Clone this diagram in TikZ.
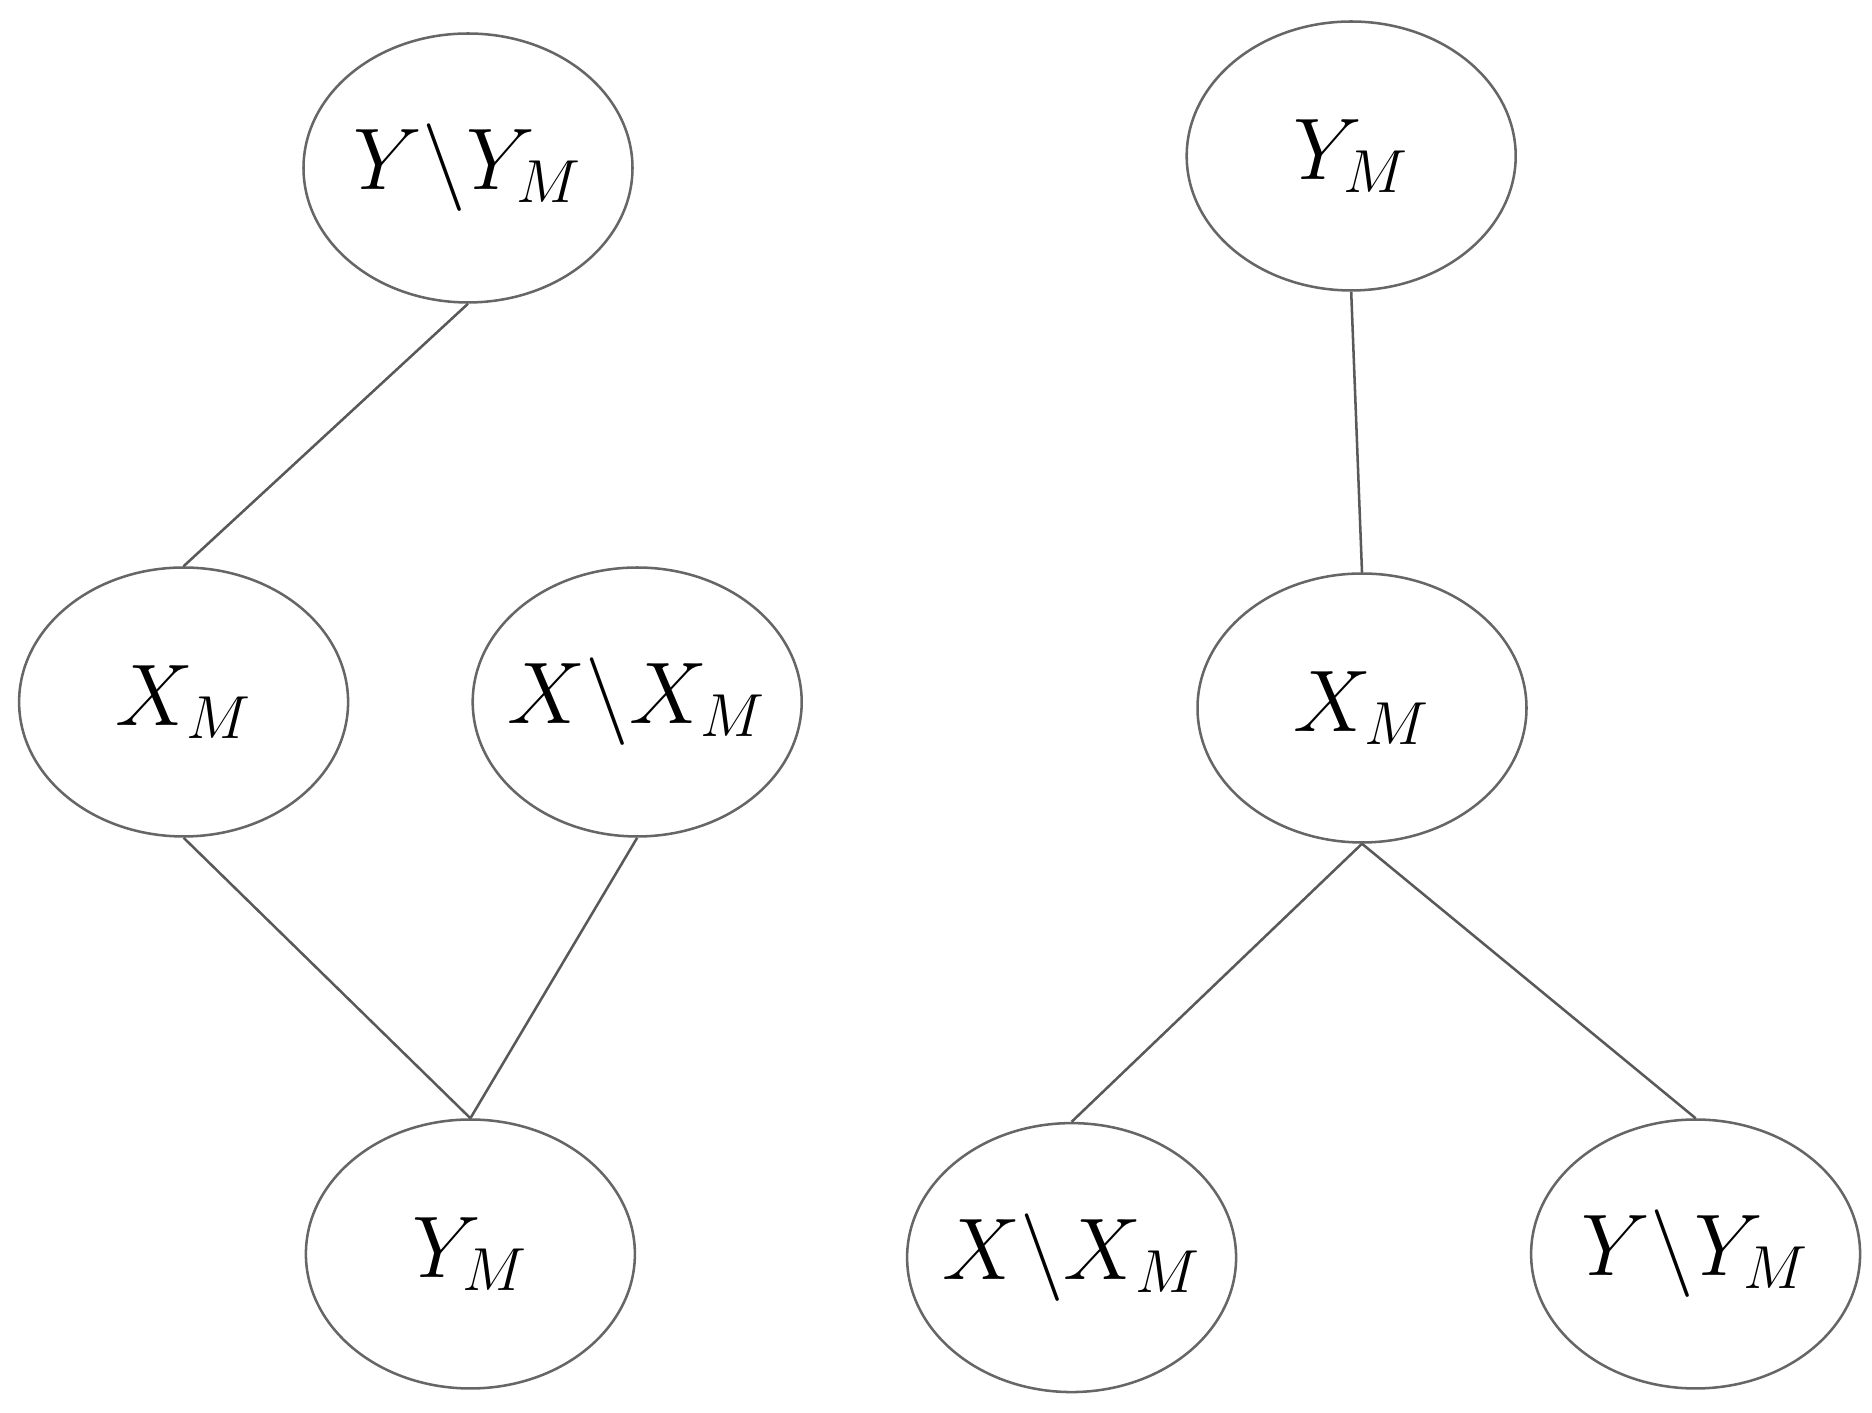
\documentclass[tikz,border=0pt]{standalone}
\usetikzlibrary{shapes.geometric}
\begin{document}
\begin{tikzpicture}[x=0.01cm,y=-0.01cm,
  el/.style={ellipse,draw=black!60,line width=0.6pt,minimum width=2.74cm,minimum height=2.24cm,inner sep=0pt},
  tx/.style={font=\fontsize{21}{25}\selectfont,inner sep=0pt},
  ln/.style={draw=black!65,line width=0.6pt}]
\useasboundingbox (0,0) rectangle (1560,1177);
\node[el] (A) at (390,140) {}; \node[tx] (At) at (A) {$Y\backslash Y_M$};
\node[el] (B) at (153,585) {}; \node[tx] (Bt) at (B) {$X_M$};
\node[el] (C) at (531,585) {}; \node[tx] (Ct) at (C) {$X\backslash X_M$};
\node[el] (D) at (392,1045) {}; \node[tx] (Dt) at (D) {$Y_M$};
\node[el] (E) at (1126,130) {}; \node[tx] (Et) at (E) {$Y_M$};
\node[el] (F) at (1135,590) {}; \node[tx] (Ft) at (F) {$X_M$};
\node[el] (G) at (893,1048) {}; \node[tx] (Gt) at (G) {$X\backslash X_M$};
\node[el] (H) at (1413,1045) {}; \node[tx] (Ht) at (H) {$Y\backslash Y_M$};
\draw[ln] (A.south) -- (B.north);
\draw[ln] (B.south) -- (D.north);
\draw[ln] (C.south) -- (D.north);
\draw[ln] (E.south) -- (F.north);
\draw[ln] (F.south) -- (G.north);
\draw[ln] (F.south) -- (H.north);
\end{tikzpicture}
\end{document}
